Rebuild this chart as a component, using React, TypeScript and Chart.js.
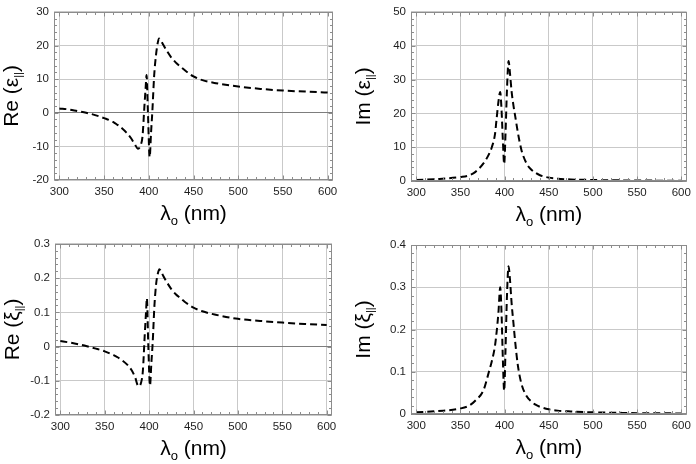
import { useEffect, useRef } from "react";
import { Chart, registerables } from "chart.js";

Chart.register(...registerables);

// wavelength grid (nm) shared by the two real-part panels
const reNm = [300, 310, 320, 330, 340, 350, 360, 365, 370, 375, 380, 384, 388, 391, 393, 395, 396.5, 397.5, 399, 401, 402.5, 404, 406, 408, 410, 411.5, 413, 416, 420, 425, 430, 435, 440, 450, 460, 475, 500, 525, 550, 575, 600];
const reEps = [1.3, 1.0, 0.5, 0.0, -0.7, -1.6, -2.7, -3.6, -4.6, -5.9, -7.5, -9.2, -10.7, -9.6, -7.0, 1.5, 7.5, 11.2, 0.5, -13.2, -6, 0.5, 11, 17, 20.8, 22.1, 21.7, 20.3, 18.5, 16.5, 15.0, 13.8, 12.7, 10.8, 9.7, 8.8, 7.8, 7.1, 6.6, 6.3, 6.0];
const reXi = [0.016, 0.012, 0.007, 0.001, -0.006, -0.014, -0.025, -0.032, -0.041, -0.052, -0.068, -0.088, -0.116, -0.105, -0.07, 0.03, 0.1, 0.141, 0.01, -0.114, -0.05, 0.01, 0.12, 0.185, 0.215, 0.226, 0.222, 0.206, 0.188, 0.168, 0.153, 0.142, 0.131, 0.114, 0.103, 0.093, 0.081, 0.075, 0.07, 0.066, 0.063];

// wavelength grid (nm) shared by the two imaginary-part panels
const imNm = [300, 325, 350, 360, 367, 376, 382, 385.5, 389, 391, 393, 395, 396.5, 398, 399.5, 401, 402.5, 404.5, 406, 408, 410, 412, 415, 419, 425, 430, 435, 440, 450, 460, 475, 500, 525, 550, 575, 600];
const imEps = [0.3, 0.6, 1.2, 1.7, 2.7, 5.2, 7.8, 10, 13.7, 18.6, 23.5, 26.3, 21, 12, 5, 14, 26, 35.5, 32, 26.2, 22.3, 19.1, 14.3, 9.2, 5.1, 3.4, 2.4, 1.7, 1.0, 0.7, 0.45, 0.3, 0.2, 0.15, 0.1, 0.05];
const imXi = [0.004, 0.007, 0.013, 0.02, 0.032, 0.056, 0.098, 0.125, 0.16, 0.195, 0.24, 0.3, 0.24, 0.13, 0.055, 0.15, 0.27, 0.35, 0.32, 0.26, 0.215, 0.17, 0.115, 0.072, 0.042, 0.03, 0.022, 0.017, 0.011, 0.008, 0.006, 0.004, 0.003, 0.002, 0.002, 0.001];

const nmTicks = [300, 350, 400, 450, 500, 550, 600];
const reEpsTicks = [-20, -10, 0, 10, 20, 30];
const imEpsTicks = [0, 10, 20, 30, 40, 50];
const reXiTicks = [-0.2, -0.1, 0, 0.1, 0.2, 0.3];
const imXiTicks = [0, 0.1, 0.2, 0.3, 0.4];
const nmRange = [294, 606];

const W = 348;
const H = 232;
const FONT = "'Liberation Sans', Arial, sans-serif";
const GRID = "#c9c9c9";
const ZERO = "#7d7d7d";
const FRAME = "#8c8c8c";

interface Panel {
  left: number;
  top: number;
  area: { l: number; r: number; t: number; b: number };
  prefix: string; // "Re" / "Im"
  symbol: string; // ε / ξ
  yTitleX: number;
  nm: number[];
  values: number[];
  yTicks: number[];
}

const panels: Panel[] = [
  { left: 0, top: 0, area: { l: 54, r: 333, t: 8, b: 180 }, prefix: "Re", symbol: "ε", yTitleX: 11, nm: reNm, values: reEps, yTicks: reEpsTicks },
  { left: W, top: 0, area: { l: 63, r: 342, t: 8, b: 181 }, prefix: "Im", symbol: "ε", yTitleX: 15, nm: imNm, values: imEps, yTicks: imEpsTicks },
  { left: 0, top: H, area: { l: 55, r: 332, t: 11, b: 183 }, prefix: "Re", symbol: "ξ", yTitleX: 12, nm: reNm, values: reXi, yTicks: reXiTicks },
  { left: W, top: H, area: { l: 63, r: 340, t: 13, b: 182 }, prefix: "Im", symbol: "ξ", yTitleX: 15, nm: imNm, values: imXi, yTicks: imXiTicks },
];

type Part = { t: string; size: number; dy?: number };

// draws a run of text pieces (for subscripts) centred on cx
function drawRich(ctx: CanvasRenderingContext2D, parts: Part[], cx: number, cy: number) {
  let total = 0;
  const widths = parts.map((p) => {
    ctx.font = `${p.size}px ${FONT}`;
    const w = ctx.measureText(p.t).width;
    total += w;
    return w;
  });
  let x = cx - total / 2;
  parts.forEach((p, i) => {
    ctx.font = `${p.size}px ${FONT}`;
    ctx.fillText(p.t, x, cy + (p.dy ?? 0));
    x += widths[i];
  });
}

// five minor divisions between each pair of major ticks
function subdivide(major: number[]) {
  const out: { v: number; major: boolean }[] = [];
  major.forEach((a, i) => {
    out.push({ v: a, major: true });
    const b = major[i + 1];
    if (b === undefined) return;
    for (let k = 1; k < 5; k++) out.push({ v: a + ((b - a) * k) / 5, major: false });
  });
  return out;
}

function framePlugin(p: Panel) {
  return {
    id: "frame",
    afterDraw(chart: Chart) {
      const { ctx, chartArea: a } = chart;
      const xs = chart.scales.x;
      const ys = chart.scales.y;
      const l = Math.round(a.left) + 0.5;
      const r = Math.round(a.right) - 0.5;
      const t = Math.round(a.top) + 0.5;
      const b = Math.round(a.bottom) - 0.5;
      ctx.save();
      ctx.strokeStyle = FRAME;
      ctx.lineWidth = 1;
      ctx.strokeRect(l, t, r - l, b - t);
      ctx.beginPath();
      subdivide(nmTicks).forEach(({ v, major }) => {
        const px = Math.round(xs.getPixelForValue(v)) + 0.5;
        const len = major ? 4 : 2.5;
        ctx.moveTo(px, b); ctx.lineTo(px, b - len);
        ctx.moveTo(px, t); ctx.lineTo(px, t + len);
      });
      subdivide(p.yTicks).forEach(({ v, major }) => {
        const py = Math.round(ys.getPixelForValue(v)) + 0.5;
        const len = major ? 4 : 2.5;
        ctx.moveTo(l, py); ctx.lineTo(l + len, py);
        ctx.moveTo(r, py); ctx.lineTo(r - len, py);
      });
      ctx.stroke();

      ctx.fillStyle = "#000";
      ctx.textBaseline = "alphabetic";
      // x title: λo (nm)
      drawRich(ctx, [
        { t: "λ", size: 21 },
        { t: "o", size: 13, dy: 5 },
        { t: " (nm)", size: 21 },
      ], (a.left + a.right) / 2, a.bottom + 40);
      // y title: Re (ε||) etc.
      ctx.translate(p.yTitleX, (a.top + a.bottom) / 2);
      ctx.rotate(-Math.PI / 2);
      drawRich(ctx, [
        { t: `${p.prefix} (${p.symbol}`, size: 21 },
        { t: "||", size: 11, dy: 4 },
        { t: ")", size: 21 },
      ], 0, 7);
      ctx.restore();
    },
  };
}

function PanelChart({ p }: { p: Panel }) {
  const ref = useRef<HTMLCanvasElement>(null);

  useEffect(() => {
    if (!ref.current) return;
    const tickFont = { family: FONT, size: 11.5 };
    const chart = new Chart(ref.current, {
      type: "line",
      data: {
        datasets: [{
          data: p.nm.map((x, i) => ({ x, y: p.values[i] })),
          borderColor: "#000",
          borderWidth: 2,
          borderDash: [7, 4],
          pointRadius: 0,
          cubicInterpolationMode: "monotone",
          fill: false,
        }],
      },
      options: {
        responsive: false,
        animation: false,
        events: [],
        layout: { padding: { left: 0, right: W - p.area.r, top: p.area.t, bottom: 0 } },
        plugins: { legend: { display: false }, tooltip: { enabled: false } },
        scales: {
          x: {
            type: "linear",
            min: nmRange[0],
            max: nmRange[1],
            afterBuildTicks: (s) => { s.ticks = nmTicks.map((value) => ({ value })); },
            afterFit: (s) => { s.height = H - p.area.b; },
            ticks: { callback: (v) => String(v), font: tickFont, color: "#1e1e1e", padding: 5, maxRotation: 0, autoSkip: false },
            grid: { color: GRID, drawTicks: false },
            border: { display: false },
          },
          y: {
            type: "linear",
            min: p.yTicks[0],
            max: p.yTicks[p.yTicks.length - 1],
            afterBuildTicks: (s) => { s.ticks = p.yTicks.map((value) => ({ value })); },
            afterFit: (s) => { s.width = p.area.l; },
            ticks: { callback: (v) => String(v), font: tickFont, color: "#1e1e1e", padding: 5, autoSkip: false },
            grid: {
              color: (c) => (c.tick && c.tick.value === 0 ? ZERO : GRID),
              drawTicks: false,
            },
            border: { display: false },
          },
        },
      },
      plugins: [framePlugin(p)],
    });
    return () => chart.destroy();
  }, [p]);

  return (
    <div style={{ position: "absolute", left: p.left, top: p.top, width: W, height: H }}>
      <canvas
        ref={ref}
        width={W}
        height={H}
        style={{ width: W, height: H, display: "block" }}
        role="img"
        aria-label={`${p.prefix} (${p.symbol}||) against λo (nm)`}
      />
    </div>
  );
}

export default function App() {
  return (
    <div style={{ position: "absolute", left: 0, top: 0, width: 2 * W, height: 2 * H, background: "#fff" }}>
      {panels.map((p, i) => <PanelChart key={i} p={p} />)}
    </div>
  );
}
